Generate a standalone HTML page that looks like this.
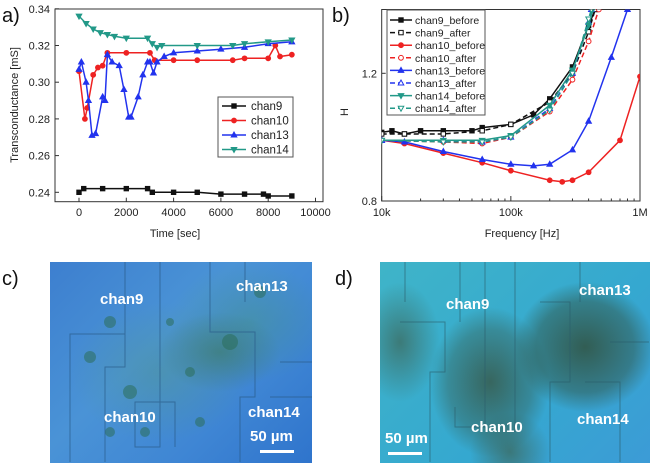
<!DOCTYPE html>
<html><head><meta charset="utf-8"><style>
html,body{margin:0;background:#fff;width:650px;height:466px;overflow:hidden;font-family:"Liberation Sans",sans-serif}
#chart{position:absolute;left:0;top:0}
.img svg{position:absolute;left:0;top:0;display:block}
.img{position:absolute;overflow:hidden}
.lbl{position:absolute;color:#fff;font-weight:bold;font-size:15px;font-family:"Liberation Sans",sans-serif;line-height:17px}
</style></head><body>
<svg id="chart" width="650" height="466"></svg>

<div class="img" style="left:50px;top:262px;width:262px;height:201px;background:radial-gradient(ellipse 60px 40px at 170px 90px,rgba(60,120,100,.6),transparent),radial-gradient(ellipse 90px 70px at 110px 110px,rgba(80,150,140,.45),transparent),radial-gradient(ellipse 80px 60px at 200px 60px,rgba(70,150,120,.4),transparent),linear-gradient(135deg,#3d7fcf 0%,#4a93d6 40%,#3f86d4 70%,#2f74cc 100%)">
<svg width="262" height="201"><g fill="none" stroke="#2a5c8a" stroke-width="1" opacity=".7"><path d="M20 200 V72 H75 V105 H55 V200"/><path d="M75 0 V72"/><path d="M110 0 V185 H85 V140 H125 V185"/><path d="M160 0 V70 H205 V135 H190 V200"/><path d="M195 0 V40"/><path d="M230 100 H262 M220 135 H262"/></g>
<g fill="#2c6e5a" opacity=".55"><circle cx="60" cy="60" r="6"/><circle cx="80" cy="130" r="7"/><circle cx="140" cy="110" r="5"/><circle cx="180" cy="80" r="8"/><circle cx="60" cy="170" r="5"/><circle cx="95" cy="170" r="5"/><circle cx="40" cy="95" r="6"/><circle cx="210" cy="30" r="6"/><circle cx="150" cy="160" r="5"/><circle cx="120" cy="60" r="4"/></g></svg>
<div class="lbl" style="left:50px;top:29px">chan9</div>
<div class="lbl" style="left:186px;top:16px">chan13</div>
<div class="lbl" style="left:54px;top:147px">chan10</div>
<div class="lbl" style="left:198px;top:142px">chan14</div>
<div class="lbl" style="left:200px;top:166px">50 µm</div>
<div style="position:absolute;left:210px;top:188px;width:34px;height:3px;background:#fff"></div>
</div>

<div class="img" style="left:380px;top:262px;width:270px;height:201px;background:radial-gradient(ellipse 70px 65px at 205px 85px,rgba(50,85,70,.9),rgba(50,85,70,.5) 70%,transparent),radial-gradient(ellipse 60px 75px at 110px 120px,rgba(55,90,75,.85),rgba(55,90,75,.4) 70%,transparent),radial-gradient(ellipse 40px 60px at 20px 80px,rgba(60,100,85,.7),transparent),radial-gradient(ellipse 40px 40px at 130px 190px,rgba(60,100,85,.7),transparent),linear-gradient(135deg,#3fb4c8,#35a8d0 60%,#3c9bd6)">
<svg width="270" height="201"><g fill="none" stroke="#2a5c6a" stroke-width="1" opacity=".6"><path d="M25 0 V40 M20 60 H65 V110 H50 V200"/><path d="M80 0 V60 M105 0 V165 H75 V145"/><path d="M135 0 V170 M160 40 H190 V120 H170 V200"/><path d="M200 0 V40 M230 80 H269 M205 120 H240 V200"/></g></svg>
<div class="lbl" style="left:66px;top:34px">chan9</div>
<div class="lbl" style="left:199px;top:20px">chan13</div>
<div class="lbl" style="left:91px;top:157px">chan10</div>
<div class="lbl" style="left:197px;top:149px">chan14</div>
<div class="lbl" style="left:5px;top:168px">50 µm</div>
<div style="position:absolute;left:8px;top:190px;width:34px;height:3px;background:#fff"></div>
</div>

<script>
// Panel a data
const timeA=[0,100,300,400,550,700,1000,1100,1200,1400,1700,1900,2100,2200,2500,2700,2900,3000,3150,3300,3600,4000,5000,6000,7000,8000,9000];
const chan9T=[0,200,1000,2000,2900,3100,4000,5000,6000,7000,7800,8000,9000];
const chan9V=[0.240,0.242,0.242,0.242,0.242,0.240,0.240,0.240,0.239,0.239,0.239,0.238,0.238];
const chan10T=[0,250,350,600,800,1000,1200,2000,3000,3200,4000,5000,6500,7000,8000,8300,8500,9000];
const chan10V=[0.306,0.280,0.286,0.304,0.308,0.309,0.316,0.316,0.316,0.312,0.312,0.312,0.312,0.313,0.313,0.320,0.314,0.315];
const chan13V=[0.307,0.311,0.300,0.290,0.271,0.272,0.292,0.290,0.315,0.311,0.309,0.296,0.281,0.281,0.292,0.304,0.311,0.311,0.305,0.311,0.314,0.316,0.317,0.318,0.319,0.321,0.322];
const chan14T=[0,300,600,900,1200,1500,2000,2900,3100,3300,3500,5000,6500,7000,8000,9000];
const chan14V=[0.336,0.332,0.329,0.327,0.326,0.325,0.324,0.324,0.321,0.319,0.320,0.320,0.320,0.321,0.322,0.323];
const xTicksA=[0,2000,4000,6000,8000,10000];
const yTicksA=[0.24,0.26,0.28,0.30,0.32,0.34];
// Panel b data
const freqs9b=[10,12,15,20,30,50,60,100,150,200,300,400,450];
const c9b=[1.015,1.02,1.01,1.02,1.02,1.02,1.03,1.04,1.07,1.12,1.22,1.35,1.4];
const freqs9a=[10,15,30,60,100,200,300,400,450];
const c9a=[1.01,1.01,1.01,1.02,1.04,1.11,1.2,1.33,1.4];
const freqs10b=[10,15,30,60,100,200,250,300,400,700,1000];
const c10b=[0.99,0.98,0.95,0.92,0.895,0.865,0.86,0.865,0.89,0.99,1.19];
const freqs10a=[10,30,60,100,200,300,400,480];
const c10a=[0.99,0.985,0.98,1.0,1.08,1.18,1.30,1.4];
const freqs13b=[10,15,30,60,100,150,200,300,400,600,800];
const c13b=[0.99,0.985,0.955,0.93,0.915,0.91,0.915,0.96,1.05,1.25,1.4];
const freqsA=[10,30,60,100,200,300,400,420];
const c13a=[0.99,0.99,0.985,1.0,1.09,1.2,1.36,1.4];
const freqs14b=[10,30,60,100,200,300,400,430];
const c14b=[0.99,0.99,0.99,1.005,1.1,1.21,1.35,1.4];
const c14a=[0.99,0.985,0.985,1.0,1.085,1.2,1.37,1.4];
const xTicksB=[10,100,1000];
const xTickLabelsB=["10k","100k","1M"];
const yTicksB=[0.8,1.2];

const NS="http://www.w3.org/2000/svg";
const svg=document.getElementById('chart');
function mk(tag,attrs,parent){const e=document.createElementNS(NS,tag);for(const k in attrs)e.setAttribute(k,attrs[k]);(parent||svg).appendChild(e);return e;}
function txt(x,y,s,attrs){const e=mk('text',Object.assign({x:x,y:y,'font-size':11,fill:'#222','font-family':'Liberation Sans, sans-serif'},attrs||{}));e.textContent=s;return e;}

// ---------- panel a ----------
const ax=v=>79+(v/2000)*47.3, ay=v=>192.3-((v-0.24)/0.02)*36.7;
const A={l:55,r:323,t:9,b:201.7};
const ga=mk('g',{});


mk('rect',{x:A.l,y:A.t,width:A.r-A.l,height:A.b-A.t,fill:'none',stroke:'#333','stroke-width':1},ga);
mk('defs',{}).innerHTML='<clipPath id="ca"><rect x="55" y="9" width="268" height="193"/></clipPath><clipPath id="cb"><rect x="381.7" y="9.5" width="258.3" height="191.5"/></clipPath>';
xTicksA.forEach(t=>{mk('line',{x1:ax(t),x2:ax(t),y1:A.b,y2:A.b-4,stroke:'#333'},ga);const e=txt(ax(t),216,String(t),{'text-anchor':'middle'});});
yTicksA.forEach(t=>{mk('line',{x1:A.l,x2:A.l+4,y1:ay(t),y2:ay(t),stroke:'#333'},ga);const e=txt(50,ay(t)+4,t.toFixed(2),{'text-anchor':'end'});});
let t1=txt(175,237,'Time [sec]',{'text-anchor':'middle'});

let t2=txt(18,105,'Transconductance [mS]',{'text-anchor':'middle',transform:'rotate(-90 18 105)'});

let pa=txt(2,22,'a)',{'font-size':20,fill:'#111'});


function marker(g,type,x,y,col,open){
  const f=open?'#fff':col;
  if(type==='sq')mk('rect',{x:x-2.2,y:y-2.2,width:4.4,height:4.4,fill:f,stroke:col,'stroke-width':1},g);
  else if(type==='ci')mk('circle',{cx:x,cy:y,r:2.4,fill:f,stroke:col,'stroke-width':1},g);
  else if(type==='up')mk('path',{d:`M${x} ${y-3}L${x+2.8} ${y+2}L${x-2.8} ${y+2}Z`,fill:f,stroke:col,'stroke-width':1},g);
  else mk('path',{d:`M${x} ${y+3}L${x+2.8} ${y-2}L${x-2.8} ${y-2}Z`,fill:f,stroke:col,'stroke-width':1},g);
}
function series(name,xs,ys,fx,fy,col,mtype,clip,dash,open){
  const g=mk('g',{'clip-path':`url(#${clip})`});
  
  
  const d=xs.map((x,i)=>(i?'L':'M')+fx(x).toFixed(1)+' '+fy(ys[i]).toFixed(1)).join('');
  mk('path',{d:d,fill:'none',stroke:col,'stroke-width':1.5,'stroke-dasharray':dash||'none'},g);
  xs.forEach((x,i)=>marker(g,mtype,fx(x),fy(ys[i]),col,open));
}
series('series-chan9',chan9T,chan9V,ax,ay,'#111','sq','ca');
series('series-chan10',chan10T,chan10V,ax,ay,'#ee2222','ci','ca');
series('series-chan13',timeA,chan13V,ax,ay,'#2233ee','up','ca');
series('series-chan14',chan14T,chan14V,ax,ay,'#229988','dn','ca');
const lga=mk('g',{});


mk('rect',{x:218,y:97,width:75,height:60,fill:'#fff',stroke:'#555'},lga);
[['chan9','#111','sq'],['chan10','#ee2222','ci'],['chan13','#2233ee','up'],['chan14','#229988','dn']].forEach((s,i)=>{
  const y=106+i*14.5;
  mk('line',{x1:222,x2:246,y1:y,y2:y,stroke:s[1],'stroke-width':1.5},lga);
  marker(lga,s[2],234,y,s[1]);
  const e=txt(251,y+4,s[0],{'font-size':11.5});
  
  lga.appendChild(e);
});

// ---------- panel b ----------
const bx=v=>381.7+Math.log10(v/10)*129.15, by=v=>201-((v-0.8)/0.4)*127.7;
const gb=mk('g',{});


mk('rect',{x:381.7,y:9.5,width:258.3,height:191.5,fill:'none',stroke:'#333'},gb);
xTicksB.forEach((t,i)=>{mk('line',{x1:bx(t),x2:bx(t),y1:201,y2:196,stroke:'#333'},gb);const e=txt(bx(t),216,xTickLabelsB[i],{'text-anchor':'middle'});});
[20,30,40,50,60,70,80,90,200,300,400,500,600,700,800,900].forEach(t=>mk('line',{x1:bx(t),x2:bx(t),y1:201,y2:198.5,stroke:'#333'},gb));
yTicksB.forEach(t=>{mk('line',{x1:381.7,x2:385.7,y1:by(t),y2:by(t),stroke:'#333'},gb);const e=txt(377,by(t)+4,t.toFixed(1),{'text-anchor':'end'});});
let t3=txt(522,237,'Frequency [Hz]',{'text-anchor':'middle'});

let t4=txt(348,112,'H',{'text-anchor':'middle',transform:'rotate(-90 348 112)'});

let pb=txt(332,22,'b)',{'font-size':20,fill:'#111'});

series('series-chan9-before',freqs9b,c9b,bx,by,'#111','sq','cb');
series('series-chan9-after',freqs9a,c9a,bx,by,'#111','sq','cb','5,3',true);
series('series-chan10-before',freqs10b,c10b,bx,by,'#ee2222','ci','cb');
series('series-chan10-after',freqs10a,c10a,bx,by,'#ee2222','ci','cb','5,3',true);
series('series-chan13-before',freqs13b,c13b,bx,by,'#2233ee','up','cb');
series('series-chan13-after',freqsA,c13a,bx,by,'#2233ee','up','cb','5,3',true);
series('series-chan14-before',freqs14b,c14b,bx,by,'#229988','dn','cb');
series('series-chan14-after',freqsA,c14a,bx,by,'#229988','dn','cb','5,3',true);
const lgb=mk('g',{});


mk('rect',{x:387,y:10,width:98,height:105,fill:'#fff',stroke:'#555'},lgb);
[['chan9_before','#111','sq',0],['chan9_after','#111','sq',1],['chan10_before','#ee2222','ci',0],['chan10_after','#ee2222','ci',1],['chan13_before','#2233ee','up',0],['chan13_after','#2233ee','up',1],['chan14_before','#229988','dn',0],['chan14_after','#229988','dn',1]].forEach((s,i)=>{
  const y=20+i*12.6;
  mk('line',{x1:390,x2:412,y1:y,y2:y,stroke:s[1],'stroke-width':1.5,'stroke-dasharray':s[3]?'5,3':'none'},lgb);
  marker(lgb,s[2],401,y,s[1],s[3]);
  const e=txt(415,y+4,s[0],{'font-size':10.5});
  
  lgb.appendChild(e);
});
let pc=txt(2,285,'c)',{'font-size':20,fill:'#111'});

let pd=txt(335,285,'d)',{'font-size':20,fill:'#111'});

</script>
</body></html>
